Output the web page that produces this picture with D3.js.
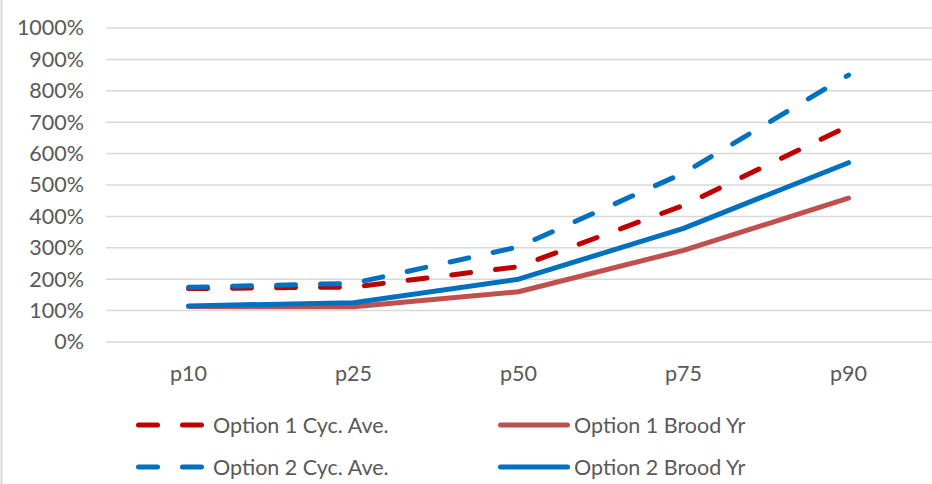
<!DOCTYPE html>
<html>
<head>
<meta charset="utf-8">
<script src="https://cdn.jsdelivr.net/npm/d3@7"></script>
<style>
  html, body { margin: 0; padding: 0; background: #fff; }
  svg { display: block; font-family: Lato, "Open Sans", sans-serif; }
</style>
</head>
<body>
<svg id="chart" width="932" height="484"></svg>
<script>
// Percentile categories along the x axis
const categories = ["p10", "p25", "p50", "p75", "p90"];

// Series values, in percent
const option1CycAve   = [170, 175, 240, 435, 688];
const option1BroodYr  = [113, 112, 160, 292, 458];
const option2CycAve   = [174, 187, 303, 538, 850];
const option2BroodYr  = [115, 125, 200, 362, 571];

// Y axis ticks
const yTicks = [0, 100, 200, 300, 400, 500, 600, 700, 800, 900, 1000];

const series = [
  { name: "Option 1 Cyc. Ave.", values: option1CycAve,  color: "#C00000", dashed: true },
  { name: "Option 1 Brood Yr",  values: option1BroodYr, color: "#C0504D", dashed: false },
  { name: "Option 2 Cyc. Ave.", values: option2CycAve,  color: "#0070C0", dashed: true },
  { name: "Option 2 Brood Yr",  values: option2BroodYr, color: "#0070C0", dashed: false }
];

const svg = d3.select("#chart");
const W = 932, H = 484;
const plot = { left: 106, right: 931, top: 28, bottom: 342 };
const textColor = "#595959";
const gridColor = "#D9D9D9";
const fontSize = 21.5;
const dash = "19 25";

// Chart frame edge
svg.append("line")
  .attr("x1", 1.5).attr("x2", 1.5).attr("y1", 0).attr("y2", H)
  .attr("stroke", gridColor).attr("stroke-width", 2);

const x = d3.scaleBand().domain(categories).range([plot.left, plot.right]);
const y = d3.scaleLinear().domain([0, 1000]).range([plot.bottom, plot.top]);

// Horizontal gridlines
svg.append("g")
  .selectAll("line")
  .data(yTicks)
  .join("line")
  .attr("x1", plot.left).attr("x2", W)
  .attr("y1", d => y(d)).attr("y2", d => y(d))
  .attr("stroke", gridColor).attr("stroke-width", 1.5);

// Y axis labels
const yAxis = d3.axisLeft(y).tickValues(yTicks).tickFormat(d => d + "%").tickSize(0).tickPadding(0);
const yG = svg.append("g").attr("transform", `translate(84,0)`).call(yAxis);
yG.select(".domain").remove();
yG.selectAll("text")
  .attr("fill", textColor)
  .attr("font-size", fontSize)
  .attr("font-family", "Lato, 'Open Sans', sans-serif");

// X axis labels
const xAxis = d3.axisBottom(x).tickSize(0).tickPadding(0);
const xG = svg.append("g").attr("transform", `translate(0,${plot.bottom})`).call(xAxis);
xG.select(".domain").remove();
xG.selectAll("text")
  .attr("fill", textColor)
  .attr("font-size", fontSize)
  .attr("font-family", "Lato, 'Open Sans', sans-serif")
  .attr("dy", null)
  .attr("y", 39);

// Series lines
const line = d3.line()
  .x((d, i) => x(categories[i]) + x.bandwidth() / 2)
  .y(d => y(d));

svg.append("g")
  .selectAll("path")
  .data(series)
  .join("path")
  .attr("d", d => line(d.values))
  .attr("fill", "none")
  .attr("stroke", d => d.color)
  .attr("stroke-width", 5)
  .attr("stroke-linecap", "round")
  .attr("stroke-linejoin", "round")
  .attr("stroke-dasharray", d => d.dashed ? dash : null);

// Legend, two columns by two rows
const legendPos = [
  { sx: 138.5, ex: 202.5, tx: 213, ty: 425 },
  { sx: 500.5, ex: 567.5, tx: 574, ty: 425 },
  { sx: 138.5, ex: 202.5, tx: 213, ty: 467 },
  { sx: 500.5, ex: 567.5, tx: 574, ty: 467 }
];
const legend = svg.append("g")
  .selectAll("g")
  .data(series)
  .join("g");
legend.append("line")
  .attr("x1", (d, i) => legendPos[i].sx)
  .attr("x2", (d, i) => legendPos[i].ex)
  .attr("y1", (d, i) => legendPos[i].ty)
  .attr("y2", (d, i) => legendPos[i].ty)
  .attr("stroke", d => d.color)
  .attr("stroke-width", 5)
  .attr("stroke-linecap", "round")
  .attr("stroke-dasharray", d => d.dashed ? dash : null);
legend.append("text")
  .attr("x", (d, i) => legendPos[i].tx)
  .attr("y", (d, i) => legendPos[i].ty)
  .attr("dy", "0.35em")
  .attr("fill", textColor)
  .attr("font-size", fontSize)
  .text(d => d.name);
</script>
</body>
</html>
